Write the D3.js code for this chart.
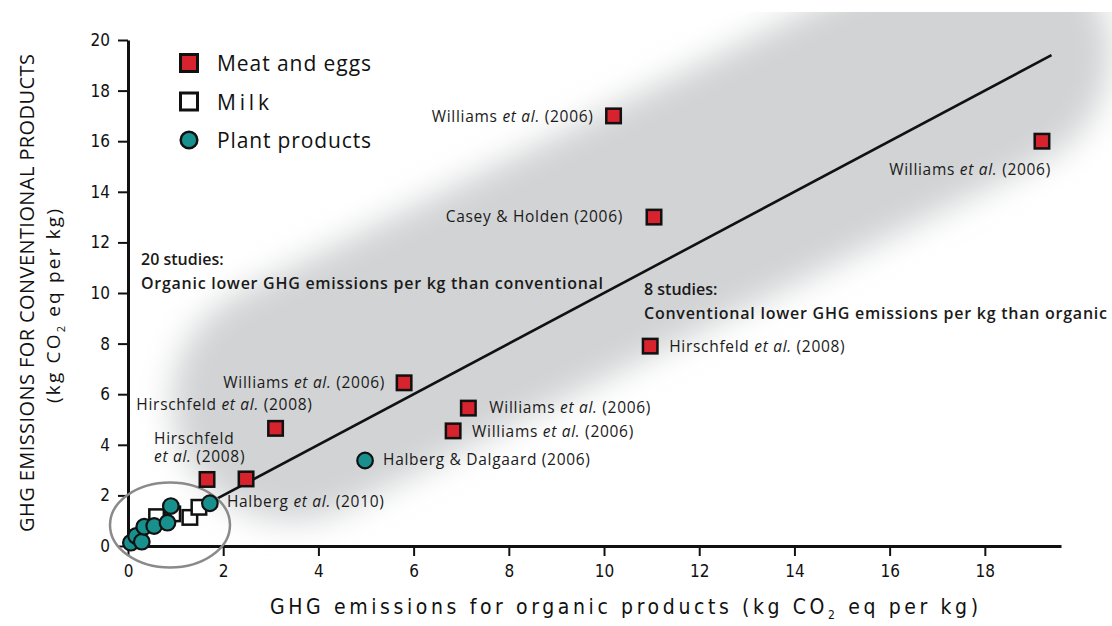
<!DOCTYPE html>
<html>
<head>
<meta charset="utf-8">
<script src="https://cdn.jsdelivr.net/npm/d3@7/dist/d3.min.js"></script>
<style>
  html, body { margin: 0; padding: 0; background: #fff; }
  svg { display: block; }
</style>
</head>
<body>
<div id="chart"></div>
<script>
// GHG emissions, organic (x) vs conventional (y), kg CO2 eq per kg
var meatEggs = [
	{ org: 10.2,  conv: 17.0,  study: "Williams", etal: true, year: 2006 },
	{ org: 19.2,  conv: 16.0,  study: "Williams", etal: true, year: 2006 },
	{ org: 11.05, conv: 13.0,  study: "Casey & Holden", etal: false, year: 2006 },
	{ org: 10.97, conv: 7.9,   study: "Hirschfeld", etal: true, year: 2008 },
	{ org: 5.8,   conv: 6.45,  study: "Williams", etal: true, year: 2006 },
	{ org: 7.15,  conv: 5.45,  study: "Williams", etal: true, year: 2006 },
	{ org: 6.83,  conv: 4.55,  study: "Williams", etal: true, year: 2006 },
	{ org: 3.1,   conv: 4.65,  study: "Hirschfeld", etal: true, year: 2008 },
	{ org: 1.66,  conv: 2.63,  study: "Hirschfeld", etal: true, year: 2008 },
	{ org: 2.48,  conv: 2.65,  study: null }
];
var milk = [
	{ org: 0.6,  conv: 1.16 },
	{ org: 0.94, conv: 1.27 },
	{ org: 1.3,  conv: 1.13 },
	{ org: 1.49, conv: 1.53 }
];
var plantProducts = [
	{ org: 4.98, conv: 3.38, study: "Halberg & Dalgaard", etal: false, year: 2006 },
	{ org: 1.72, conv: 1.69, study: "Halberg", etal: true, year: 2010 },
	{ org: 0.06, conv: 0.13 },
	{ org: 0.17, conv: 0.4 },
	{ org: 0.29, conv: 0.17 },
	{ org: 0.34, conv: 0.76 },
	{ org: 0.55, conv: 0.79 },
	{ org: 0.83, conv: 0.92 },
	{ org: 0.9,  conv: 1.58 }
];
var legendItems = ["Meat and eggs", "Milk", "Plant products"];
var xTicks = [0, 2, 4, 6, 8, 10, 12, 14, 16, 18];
var yTicks = [0, 2, 4, 6, 8, 10, 12, 14, 16, 18, 20];
var parityLine = [1.75, 19.4];   // y = x line, from / to
var noteOrganic = ["20 studies:", "Organic lower GHG emissions per kg than conventional"];
var noteConventional = ["8 studies:", "Conventional lower GHG emissions per kg than organic"];

// where each study label sits relative to its marker
var labelLayout = {
	m0: { anchor: "end",   dx: -20, dy: 6 },
	m1: { anchor: "end",   dx: 9,   dy: 34 },
	m2: { anchor: "end",   dx: -31, dy: 5 },
	m3: { anchor: "start", dx: 19,  dy: 6 },
	m4: { anchor: "end",   dx: -19, dy: 5 },
	m5: { anchor: "start", dx: 21,  dy: 5 },
	m6: { anchor: "start", dx: 19,  dy: 6 },
	m7: { anchor: "end",   dx: 37,  dy: -18 },
	m8: { anchor: "start", dx: -53, dy: -35, wrap: true },
	p0: { anchor: "start", dx: 18,  dy: 5 },
	p1: { anchor: "start", dx: 17,  dy: 4 }
};

var width = 1112, height = 626;
var RED = "#d6232d", TEAL = "#17908e", GREY = "#d1d3d4";
var labelFont = "'Open Sans', 'DejaVu Sans', sans-serif";
var tickFont = "'Liberation Sans Narrow', 'DejaVu Sans Condensed', sans-serif";

var svg = d3.select("#chart").append("svg")
	.attr("width", width)
	.attr("height", height);

var x = d3.scaleLinear().domain([0, 19.6]).range([128, 1061]);
var y = d3.scaleLinear().domain([0, 20]).range([546, 40]);

// soft grey band along the diagonal
var defs = svg.append("defs");
defs.append("filter").attr("id", "soft")
	.attr("x", "-20%").attr("y", "-50%").attr("width", "140%").attr("height", "200%")
	.append("feGaussianBlur").attr("stdDeviation", 16);
defs.append("clipPath").attr("id", "topcut")
	.append("rect").attr("x", 0).attr("y", 12).attr("width", width).attr("height", height);

svg.append("g").attr("clip-path", "url(#topcut)")
	.append("rect")
	.attr("x", -510).attr("y", -120)
	.attr("width", 1020).attr("height", 240)
	.attr("rx", 120).attr("ry", 120)
	.attr("fill", GREY)
	.attr("filter", "url(#soft)")
	.attr("transform", "translate(641,227) rotate(-26.5)");

// y = x line
svg.append("line")
	.attr("x1", x(parityLine[0])).attr("y1", y(parityLine[0]))
	.attr("x2", x(parityLine[1])).attr("y2", y(parityLine[1]))
	.attr("stroke", "#111").attr("stroke-width", 2.6);

// axes
var xAxis = svg.append("g")
	.attr("transform", "translate(0," + y(0) + ")")
	.call(d3.axisBottom(x).tickValues(xTicks).tickSize(10).tickPadding(9).tickSizeOuter(0));
var yAxis = svg.append("g")
	.attr("transform", "translate(" + x(0) + ",0)")
	.call(d3.axisLeft(y).tickValues(yTicks).tickSize(10).tickPadding(8).tickSizeOuter(0));

[xAxis, yAxis].forEach(function(a) {
	a.select(".domain").attr("stroke", "#111").attr("stroke-width", 3);
	a.selectAll(".tick line").attr("stroke", "#111").attr("stroke-width", 2);
	a.selectAll(".tick text")
		.attr("fill", "#111")
		.style("font-family", tickFont)
		.style("font-size", "17px");
});

// axis titles
var xTitle = svg.append("text")
	.attr("x", 624).attr("y", 614)
	.attr("text-anchor", "middle")
	.attr("textLength", 708).attr("lengthAdjust", "spacing")
	.style("font-family", tickFont).style("font-size", "21px").attr("fill", "#111");
xTitle.append("tspan").text("GHG emissions for organic products (kg CO");
xTitle.append("tspan").attr("dy", 5).style("font-size", "12px").text("2");
xTitle.append("tspan").attr("dy", -5).text(" eq per kg)");

svg.append("text")
	.attr("transform", "translate(34,293) rotate(-90)")
	.attr("text-anchor", "middle")
	.attr("textLength", 478).attr("lengthAdjust", "spacing")
	.style("font-family", labelFont).style("font-size", "20px")
	.attr("fill", "#111")
	.text("GHG EMISSIONS FOR CONVENTIONAL PRODUCTS");

var yTitle2 = svg.append("text")
	.attr("transform", "translate(60,306) rotate(-90)")
	.attr("text-anchor", "middle")
	.attr("textLength", 194).attr("lengthAdjust", "spacing")
	.style("font-family", labelFont).style("font-size", "19px")
	.attr("fill", "#111");
yTitle2.append("tspan").text("(kg CO");
yTitle2.append("tspan").attr("dy", 5).style("font-size", "11px").text("2");
yTitle2.append("tspan").attr("dy", -5).text(" eq per kg)");

// gray ring around the cluster of small values
svg.append("ellipse")
	.attr("cx", 170).attr("cy", 525).attr("rx", 60).attr("ry", 42.5)
	.attr("fill", "none").attr("stroke", "#8a8a8a").attr("stroke-width", 2.5);

// markers
var sq = 14.5;
svg.append("g").selectAll("rect")
	.data(milk).enter().append("rect")
	.attr("x", function(d) { return x(d.org) - sq / 2; })
	.attr("y", function(d) { return y(d.conv) - sq / 2; })
	.attr("width", sq).attr("height", sq)
	.attr("fill", "#fff").attr("stroke", "#111").attr("stroke-width", 2.5);

svg.append("g").selectAll("rect")
	.data(meatEggs).enter().append("rect")
	.attr("x", function(d) { return x(d.org) - sq / 2; })
	.attr("y", function(d) { return y(d.conv) - sq / 2; })
	.attr("width", sq).attr("height", sq)
	.attr("fill", RED).attr("stroke", "#111").attr("stroke-width", 2.5);

svg.append("g").selectAll("circle")
	.data(plantProducts).enter().append("circle")
	.attr("cx", function(d) { return x(d.org); })
	.attr("cy", function(d) { return y(d.conv); })
	.attr("r", 7.8)
	.attr("fill", TEAL).attr("stroke", "#111").attr("stroke-width", 2.2);

// study labels
function addLabel(d, key) {
	var lay = labelLayout[key];
	if (!lay || !d.study) return;
	var t = svg.append("text")
		.attr("x", x(d.org) + lay.dx)
		.attr("y", y(d.conv) + lay.dy)
		.attr("text-anchor", lay.anchor)
		.style("font-family", labelFont).style("font-size", "15.5px")
		.style("letter-spacing", "0.7px").attr("fill", "#1a1a1a");
	if (lay.wrap) {
		t.append("tspan").text(d.study);
		var l2 = t.append("tspan").attr("x", x(d.org) + lay.dx).attr("dy", 17.5);
		l2.append("tspan").style("font-style", "italic").text("et al.");
		l2.append("tspan").text(" (" + d.year + ")");
		return;
	}
	t.append("tspan").text(d.study + " ");
	if (d.etal) {
		t.append("tspan").style("font-style", "italic").text("et al.");
		t.append("tspan").text(" ");
	}
	t.append("tspan").text("(" + d.year + ")");
}
meatEggs.forEach(function(d, i) { addLabel(d, "m" + i); });
plantProducts.forEach(function(d, i) { addLabel(d, "p" + i); });

// legend
var legend = svg.append("g");
legendItems.forEach(function(name, i) {
	var cy = 63 + i * 38.5;
	if (i < 2) {
		legend.append("rect")
			.attr("x", 189 - 8.5).attr("y", cy - 8.5).attr("width", 17).attr("height", 17)
			.attr("fill", i === 0 ? RED : "#fff").attr("stroke", "#111").attr("stroke-width", 3);
	} else {
		legend.append("circle")
			.attr("cx", 189).attr("cy", cy).attr("r", 8.3)
			.attr("fill", TEAL).attr("stroke", "#111").attr("stroke-width", 2.5);
	}
	legend.append("text")
		.attr("x", 217).attr("y", cy + 8)
		.attr("textLength", i === 1 ? 52 : (i === 0 ? 154 : 154)).attr("lengthAdjust", "spacing")
		.style("font-family", labelFont).style("font-size", "21px")
		.attr("fill", "#111")
		.text(name);
});

// study count notes
function addNote(lines, x0, y0, w) {
	lines.forEach(function(s, i) {
		var t = svg.append("text")
			.attr("x", x0).attr("y", y0 + i * 23.5)
			.style("font-family", labelFont).style("font-size", "16px")
			.style("font-weight", 600).attr("fill", "#1a1a1a")
			.text(s);
		if (i === 1) t.attr("textLength", w).attr("lengthAdjust", "spacing");
	});
}
addNote(noteOrganic, 141, 265, 462);
addNote(noteConventional, 644, 295, 463);
</script>
</body>
</html>
